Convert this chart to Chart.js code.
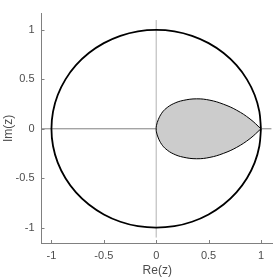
<!DOCTYPE html>
<html>
<head>
<meta charset="utf-8">
<script src="https://cdn.jsdelivr.net/npm/chart.js@4.4.1/dist/chart.umd.min.js"></script>
<style>
  html, body { margin: 0; padding: 0; background: #fff; }
  #wrap { width: 273px; height: 280px; }
</style>
</head>
<body>
<div id="wrap"><canvas id="chart"></canvas></div>
<script>
// Unit circle, read every 10 degrees
const circleX = [1, 0.985, 0.940, 0.866, 0.766, 0.643, 0.5, 0.342, 0.174, 0,
  -0.174, -0.342, -0.5, -0.643, -0.766, -0.866, -0.940, -0.985, -1,
  -0.985, -0.940, -0.866, -0.766, -0.643, -0.5, -0.342, -0.174, 0,
  0.174, 0.342, 0.5, 0.643, 0.766, 0.866, 0.940, 0.985, 1];
const circleY = [0, 0.174, 0.342, 0.5, 0.643, 0.766, 0.866, 0.940, 0.985, 1,
  0.985, 0.940, 0.866, 0.766, 0.643, 0.5, 0.342, 0.174, 0,
  -0.174, -0.342, -0.5, -0.643, -0.766, -0.866, -0.940, -0.985, -1,
  -0.985, -0.940, -0.866, -0.766, -0.643, -0.5, -0.342, -0.174, 0];

// Shaded region outline: from the tip at 1, over the top, round the left end, back along the bottom
const dropX = [1.0, 0.896, 0.768, 0.641, 0.513, 0.386, 0.258, 0.163, 0.093, 0.052, 0.020, 0.002, 0,
  0.002, 0.020, 0.052, 0.093, 0.163, 0.258, 0.386, 0.513, 0.641, 0.768, 0.896, 1.0];
const dropY = [0, 0.099, 0.188, 0.249, 0.289, 0.303, 0.287, 0.253, 0.205, 0.157, 0.093, 0.031, 0,
  -0.031, -0.093, -0.157, -0.205, -0.253, -0.287, -0.303, -0.289, -0.249, -0.188, -0.099, 0];

// Zero lines through the origin
const zeroSpan = [-1.1, 1.1];

const tickValues = [-1, -0.5, 0, 0.5, 1];
const tickLabels = ['-1', '-0.5', '0', '0.5', '1'];

const axisColor = '#808080';
const textColor = '#4d4d4d';

function toPoints(xs, ys) {
  return xs.map((x, i) => ({ x, y: ys[i] }));
}

// MATLAB style ticks pointing into the plot
const innerTicks = {
  id: 'innerTicks',
  afterDraw(chart) {
    const { ctx, chartArea, scales } = chart;
    ctx.save();
    ctx.strokeStyle = axisColor;
    ctx.lineWidth = 1;
    ctx.beginPath();
    tickValues.forEach(v => {
      const px = Math.round(scales.x.getPixelForValue(v)) + 0.5;
      ctx.moveTo(px, chartArea.bottom);
      ctx.lineTo(px, chartArea.bottom - 3);
      const py = Math.round(scales.y.getPixelForValue(v)) + 0.5;
      ctx.moveTo(chartArea.left, py);
      ctx.lineTo(chartArea.left + 3, py);
    });
    ctx.stroke();
    ctx.restore();
  }
};

Chart.defaults.font.family = '"Liberation Sans", Arial, sans-serif';
Chart.defaults.font.size = 11;
Chart.defaults.color = textColor;

new Chart(document.getElementById('chart'), {
  type: 'scatter',
  data: {
    datasets: [
      {
        data: toPoints(circleX, circleY),
        showLine: true,
        borderColor: '#000',
        borderWidth: 1.8,
        tension: 0.35,
        pointRadius: 0,
        order: 0
      },
      {
        data: toPoints(dropX, dropY),
        showLine: true,
        borderColor: '#000',
        borderWidth: 1,
        backgroundColor: '#cccccc',
        fill: 'shape',
        tension: 0.4,
        pointRadius: 0,
        order: 1
      },
      {
        data: toPoints(zeroSpan, [0, 0]),
        showLine: true,
        borderColor: '#808080',
        borderWidth: 1,
        pointRadius: 0,
        order: 2
      },
      {
        data: toPoints([0, 0], zeroSpan),
        showLine: true,
        borderColor: '#b3b3b3',
        borderWidth: 1,
        pointRadius: 0,
        order: 3
      }
    ]
  },
  options: {
    responsive: true,
    maintainAspectRatio: false,
    animation: false,
    layout: { padding: { top: 1, right: 0, left: 0, bottom: 0 } },
    plugins: {
      legend: { display: false },
      tooltip: { enabled: false }
    },
    scales: {
      x: {
        type: 'linear',
        min: -1.095,
        max: 1.115,
        grid: { display: false, drawTicks: false },
        border: { display: true, color: axisColor, width: 1 },
        afterBuildTicks: scale => { scale.ticks = tickValues.map(v => ({ value: v })); },
        afterFit: scale => { scale.height = 37; },
        ticks: {
          padding: 6,
          color: textColor,
          callback: v => tickLabels[tickValues.indexOf(v)]
        },
        title: {
          display: true,
          text: 'Re(z)',
          color: textColor,
          font: { size: 12 },
          padding: { top: 0, bottom: 2 }
        }
      },
      y: {
        type: 'linear',
        min: -1.155,
        max: 1.165,
        grid: { display: false, drawTicks: false },
        border: { display: true, color: axisColor, width: 1 },
        afterBuildTicks: scale => { scale.ticks = tickValues.map(v => ({ value: v })); },
        afterFit: scale => { scale.width = 41.5; },
        ticks: {
          padding: 7,
          color: textColor,
          callback: v => tickLabels[tickValues.indexOf(v)]
        },
        title: {
          display: true,
          text: 'Im(z)',
          color: textColor,
          font: { size: 12 },
          padding: { top: 1, bottom: 0 }
        }
      }
    }
  },
  plugins: [innerTicks]
});
</script>
</body>
</html>
